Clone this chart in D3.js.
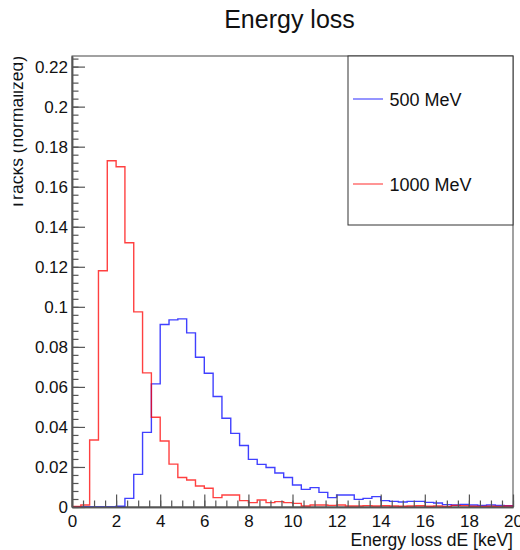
<!DOCTYPE html>
<html>
<head>
<meta charset="utf-8">
<script src="https://cdn.jsdelivr.net/npm/d3@7"></script>
<style>
  html, body { margin: 0; padding: 0; background: #fff; }
  svg { display: block; font-family: "Liberation Sans", Arial, Helvetica, sans-serif; }
</style>
</head>
<body>
<svg id="chart" width="520" height="550"></svg>
<script>
// ---- data ----
const binEdgesStart = 0;          // keV
const binWidth = 0.4;             // keV
const seriesNames = ["500 MeV", "1000 MeV"];
const seriesColors = ["#0000ff", "#ff0000"];
const values500 = [
  0, 0, 0, 0, 0, 0.0004, 0.0043, 0.0163, 0.0373, 0.0615,
  0.0912, 0.0935, 0.0940, 0.0870, 0.0748, 0.0668, 0.0552, 0.0443, 0.0368, 0.0307,
  0.0238, 0.0213, 0.0197, 0.0170, 0.0147, 0.0110, 0.0088, 0.0097, 0.0073, 0.0047,
  0.0060, 0.0060, 0.0038, 0.0043, 0.0052, 0.0032, 0.0028, 0.0025, 0.0028, 0.0028,
  0.0023, 0.0020, 0.0012, 0.0010, 0.0013, 0.0010, 0.0008, 0.0010, 0.0008, 0.0006
];
const values1000 = [
  0.0003, 0.0010, 0.0335, 0.1180, 0.1730, 0.1700, 0.1320, 0.0975, 0.0670, 0.0448,
  0.0330, 0.0214, 0.0147, 0.0135, 0.0105, 0.0094, 0.0047, 0.0060, 0.0060, 0.0032,
  0.0022, 0.0035, 0.0022, 0.0027, 0.0022, 0.0018, 0.0005, 0.0010, 0.0010, 0.0008,
  0.0010, 0.0005, 0.0005, 0.0007, 0.0005, 0.0006, 0.0005, 0.0004, 0.0005, 0.0006,
  0.0004, 0.0005, 0.0003, 0.0008, 0.0007, 0.0004, 0.0003, 0.0004, 0.0003, 0.0005
];
const xTicks = [0, 2, 4, 6, 8, 10, 12, 14, 16, 18, 20];
const xMinorTicks = d3.range(0, 20.001, 0.5);
const yTicks = [0, 0.02, 0.04, 0.06, 0.08, 0.1, 0.12, 0.14, 0.16, 0.18, 0.2, 0.22];
const yMinorTicks = d3.range(0, 0.2253, 0.004);
const xDomain = [0, 20];
const yDomain = [0, 0.2253];
const titleText = "Energy loss";
const xTitle = "Energy loss dE [keV]";
const yTitle = "Tracks (normalized)";

// ---- layout ----
const svg = d3.select("#chart");
const L = 72, R = 513, T = 56, B = 507;
const x = d3.scaleLinear().domain(xDomain).range([L, R]);
const y = d3.scaleLinear().domain(yDomain).range([B, T]);

// clip for the partially hidden y title (as in the reference)
svg.append("defs").append("clipPath").attr("id", "ytclip")
  .append("rect").attr("x", 13.5).attr("y", 0).attr("width", 40).attr("height", 550);

// frame
svg.append("rect").attr("x", L).attr("y", T).attr("width", R - L).attr("height", B - T)
  .attr("fill", "none").attr("stroke", "#444").attr("stroke-width", 1);

// histograms
function toPoints(vals) {
  const pts = vals.map((v, i) => ({ e: binEdgesStart + i * binWidth, v }));
  pts.push({ e: binEdgesStart + vals.length * binWidth, v: vals[vals.length - 1] });
  return pts;
}
const line = d3.line().curve(d3.curveStepAfter).x(d => x(d.e)).y(d => y(d.v));
[values500, values1000].forEach((vals, k) => {
  svg.append("path").attr("d", line(toPoints(vals)))
    .attr("fill", "none").attr("stroke", seriesColors[k])
    .attr("stroke-width", 1.4).attr("stroke-opacity", 0.75);
});

// axes
const fmt = d => String(+d.toFixed(2));
const axisColor = "#555";
const yAxis = svg.append("g").attr("transform", `translate(${L},0)`)
  .call(d3.axisLeft(y).tickValues(yTicks).tickFormat(fmt).tickSize(-13).tickSizeOuter(0).tickPadding(4));
const yMinor = svg.append("g").attr("transform", `translate(${L},0)`)
  .call(d3.axisLeft(y).tickValues(yMinorTicks).tickFormat("").tickSize(-6.5).tickSizeOuter(0));
const xAxis = svg.append("g").attr("transform", `translate(0,${B})`)
  .call(d3.axisBottom(x).tickValues(xTicks).tickFormat(d3.format("d")).tickSize(-12.5).tickSizeOuter(0).tickPadding(8));
const xMinor = svg.append("g").attr("transform", `translate(0,${B})`)
  .call(d3.axisBottom(x).tickValues(xMinorTicks).tickFormat("").tickSize(-6.5).tickSizeOuter(0));
[yAxis, yMinor, xAxis, xMinor].forEach(g => {
  g.selectAll("path.domain").attr("stroke", axisColor).attr("stroke-width", 1.5);
  g.selectAll(".tick line").attr("stroke", axisColor).attr("stroke-width", 1.2);
  g.selectAll(".tick text").attr("fill", "#111").style("font-size", "17px")
    .style("font-family", "'Liberation Sans', Arial, sans-serif");
});

// titles
svg.append("text").attr("x", 289.5).attr("y", 28.3).attr("text-anchor", "middle")
  .style("font-size", "25px").attr("fill", "#111").text(titleText);
svg.append("text").attr("x", R).attr("y", 545.5).attr("text-anchor", "end")
  .style("font-size", "17.5px").attr("fill", "#111").text(xTitle);
svg.append("g").attr("clip-path", "url(#ytclip)")
  .append("text").attr("transform", `translate(22.5,${T}) rotate(-90)`).attr("text-anchor", "end")
  .style("font-size", "17.5px").attr("fill", "#111").text(yTitle);

// legend
const leg = svg.append("g");
leg.append("rect").attr("x", 348).attr("y", T).attr("width", R - 348).attr("height", 169)
  .attr("fill", "#fff").attr("stroke", "#333").attr("stroke-width", 1);
const legY = [99, 184];
seriesNames.forEach((name, k) => {
  leg.append("line").attr("x1", 353).attr("x2", 383).attr("y1", legY[k]).attr("y2", legY[k])
    .attr("stroke", seriesColors[k]).attr("stroke-width", 1.4).attr("stroke-opacity", 0.6);
  leg.append("text").attr("x", 389.5).attr("y", legY[k] + 6.8)
    .style("font-size", "18px").attr("fill", "#111").text(name);
});
</script>
</body>
</html>
